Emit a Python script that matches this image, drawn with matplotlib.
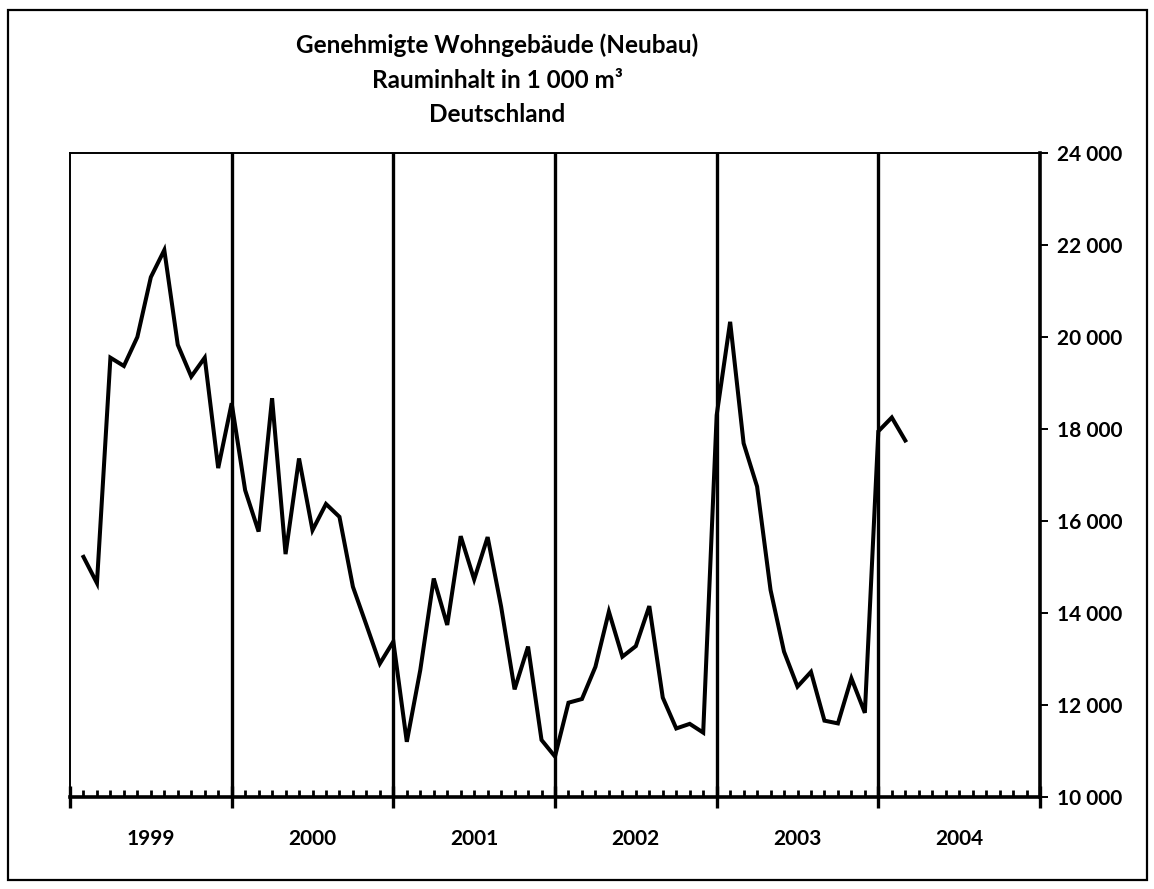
import matplotlib
matplotlib.use("Agg")
import matplotlib.pyplot as plt
import numpy as np
from matplotlib.patches import Rectangle
from matplotlib.ticker import FixedLocator, FuncFormatter

# Monatswerte Jan 1999 .. Feb 2004, Rauminhalt in 1 000 m3
values = [
    15220, 14650, 19550, 19370, 20000, 21300, 21890, 19830, 19140, 19550, 17150, 18560,
    16670, 15770, 18670, 15280, 17360, 15800, 16370, 16090, 14570, 13740, 12900, 13380,
    11200, 12760, 14750, 13740, 15670, 14730, 15650, 14140, 12340, 13270, 11240, 10880,
    12050, 12130, 12830, 14030, 13050, 13280, 14150, 12160, 11490, 11590, 11400, 18300,
    20330, 17690, 16750, 14500, 13160, 12400, 12720, 11660, 11600, 12580, 11830, 17950,
    18250, 17750,
]
years = ["1999", "2000", "2001", "2002", "2003", "2004"]
y_ticks = [10000, 12000, 14000, 16000, 18000, 20000, 22000, 24000]

title_lines = ["Genehmigte Wohngebäude (Neubau)", "Rauminhalt in 1 000 m³", "Deutschland"]

plt.rcParams["font.family"] = ["Lato", "DejaVu Sans"]

fig = plt.figure(figsize=(11.54, 8.89), dpi=100)
ax = fig.add_axes([70 / 1154, 1 - 797 / 889, 970 / 1154, 644 / 889])

n_months = 12 * len(years)
x = np.arange(1, len(values) + 1)
ax.plot(x, values, color="black", lw=2.9, solid_joinstyle="miter")

# Jahrestrennlinien
for b in range(12, n_months, 12):
    ax.axvline(b, color="black", lw=2.4)

ax.set_xlim(0, n_months)
ax.set_ylim(y_ticks[0], y_ticks[-1])

for side in ["left", "top"]:
    ax.spines[side].set_linewidth(1.4)
ax.spines["right"].set_linewidth(2.6)
ax.spines["bottom"].set_linewidth(2.6)

ax.xaxis.set_major_locator(FixedLocator(range(0, n_months + 1, 12)))
ax.xaxis.set_minor_locator(FixedLocator([m for m in range(n_months) if m % 12]))
ax.tick_params(axis="x", which="major", direction="inout", length=16, width=2.4, labelbottom=False)
ax.tick_params(axis="x", which="minor", direction="in", length=5, width=2.0)

for i, yr in enumerate(years):
    ax.text(12 * i + 6, -0.065, yr, transform=ax.get_xaxis_transform(),
            ha="center", va="center", fontsize=15, fontweight="bold")

ax.yaxis.tick_right()
ax.set_yticks(y_ticks)
ax.yaxis.set_major_formatter(FuncFormatter(lambda v, p: f"{int(v):,}".replace(",", " ")))
ax.tick_params(axis="y", which="major", direction="out", length=6, width=1.4,
               pad=6, labelsize=15)
for lbl in ax.get_yticklabels():
    lbl.set_fontweight("bold")

for i, line in enumerate(title_lines):
    fig.text(497 / 1154, 1 - (45 + 35 * i) / 889, line, ha="center", va="center",
             fontsize=17.5, fontweight="bold")

fig.add_artist(Rectangle((8 / 1154, 1 - 880 / 889), 1139 / 1154, 870 / 889,
                         transform=fig.transFigure, fill=False, lw=1.6, edgecolor="black"))

fig.savefig("out.png", dpi=100)
